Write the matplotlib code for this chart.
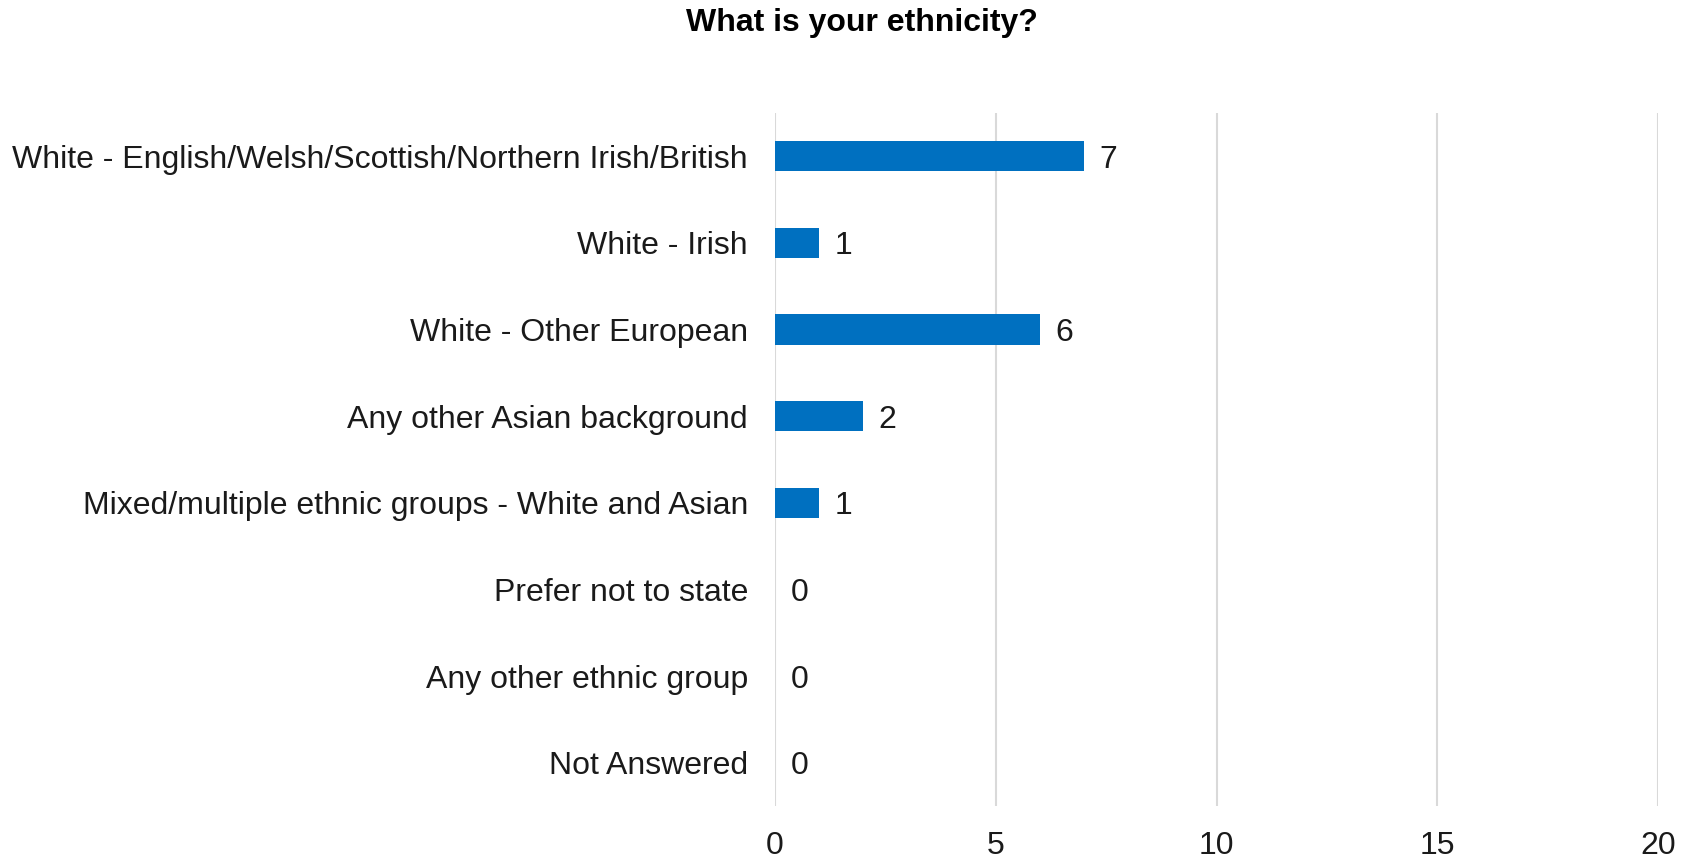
import matplotlib
matplotlib.use("Agg")
import matplotlib.pyplot as plt

categories = [
    "White - English/Welsh/Scottish/Northern Irish/British",
    "White - Irish",
    "White - Other European",
    "Any other Asian background",
    "Mixed/multiple ethnic groups - White and Asian",
    "Prefer not to state",
    "Any other ethnic group",
    "Not Answered",
]
values = [7, 1, 6, 2, 1, 0, 0, 0]
xticks = [0, 5, 10, 15, 20]
title = "What is your ethnicity?"

plt.rcParams['font.family'] = ['Liberation Sans', 'DejaVu Sans']

fig = plt.figure(figsize=(16.9, 8.61), dpi=100)
ax = fig.add_axes([775/1690, 1 - 806/861, (1658 - 775)/1690, (806 - 113)/861])

ypos = list(range(len(categories)))
ax.barh(ypos, values, height=0.35, color="#0070c0", zorder=3)
for y, v in zip(ypos, values):
    ax.annotate(str(v), (v, y), xytext=(11, 0), textcoords="offset points",
                va="center_baseline", ha="left", fontsize=23, color="#1a1a1a")

ax.set_ylim(len(categories) - 0.5, -0.5)
ax.set_xlim(0, 20)
ax.set_xticks(xticks)
ax.set_xticklabels([str(t) for t in xticks])
ax.set_yticks(ypos)
ax.set_yticklabels(categories, va="center_baseline")
ax.tick_params(axis="both", length=0, labelsize=23, colors="#1a1a1a")
ax.tick_params(axis="y", pad=19.5)
ax.tick_params(axis="x", pad=18)
ax.grid(axis="x", color="#d9d9d9", linewidth=1.5, zorder=0)
for s in ax.spines.values():
    s.set_visible(False)

fig.text(862 / 1690, 1 - 23/861, title, ha="center", va="center",
         fontsize=23, fontweight="bold", color="#000000")

fig.savefig("out.png", dpi=100, facecolor="white")
